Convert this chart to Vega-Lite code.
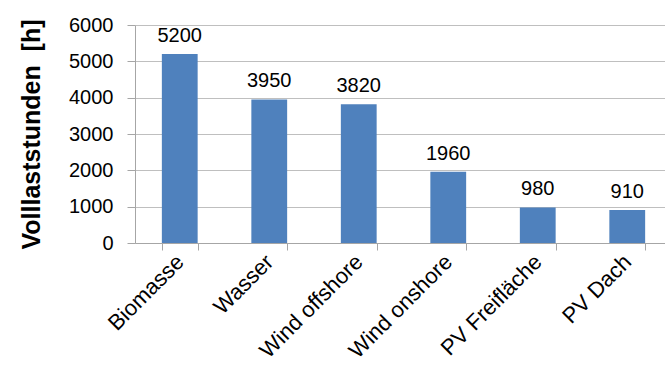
{
  "$schema": "https://vega.github.io/schema/vega-lite/v6.json",
  "width": 537,
  "height": 218,
  "autosize": {"type": "none"},
  "padding": {"left": 135, "top": 25, "right": 0, "bottom": 124},
  "background": "white",
  "config": {"view": {"stroke": null}, "font": "Liberation Sans", "axisY": {"grid": true, "gridColor": "#bfbfbf", "gridOpacity": 1, "gridWidth": 1}},
  "data": {"values": [
    {"kategorie": "Biomasse", "stunden": 5200},
    {"kategorie": "Wasser", "stunden": 3950},
    {"kategorie": "Wind offshore", "stunden": 3820},
    {"kategorie": "Wind onshore", "stunden": 1960},
    {"kategorie": "PV Freifläche", "stunden": 980},
    {"kategorie": "PV Dach", "stunden": 910}
  ]},
  "encoding": {
    "x": {"field": "kategorie", "type": "nominal", "sort": null,
      "scale": {"paddingInner": 0.6, "paddingOuter": 0.3},
      "axis": {"title": null, "labelAngle": -45, "labelAlign": "right", "labelBaseline": "middle",
        "labelFontSize": 22, "labelColor": "black", "labelPadding": 8, "labelOverlap": false, "labelBound": false, "labelLimit": 300,
        "tickBand": "extent", "tickSize": 7, "tickColor": "#a6a6a6", "domainColor": "#a6a6a6", "grid": false}},
    "y": {"field": "stunden", "type": "quantitative",
       "scale": {"domain": [0, 6000], "nice": false},
       "axis": {"title": "Volllaststunden\u00a0\u00a0[h]", "titleFontSize": 25, "titleFontWeight": "bold", "titleColor": "black", "titlePadding": 24,
         "tickCount": 6,
         "format": "d", "labelOverlap": false,
         "labelFontSize": 20, "labelColor": "black", "labelPadding": 14,
         "tickSize": 8,
         "tickColor": "#a6a6a6", "domainColor": "#a6a6a6",
         "grid": true, "gridColor": "#bfbfbf", "gridOpacity": 1, "gridWidth": 1}}
  },
  "layer": [
    {"mark": {"type": "bar", "color": "#4F81BD"}},
    {"mark": {"type": "text", "fontSize": 20, "baseline": "alphabetic", "dy": -12, "color": "black"},
     "encoding": {"text": {"field": "stunden", "type": "quantitative", "format": "d"}}}
  ]
}
